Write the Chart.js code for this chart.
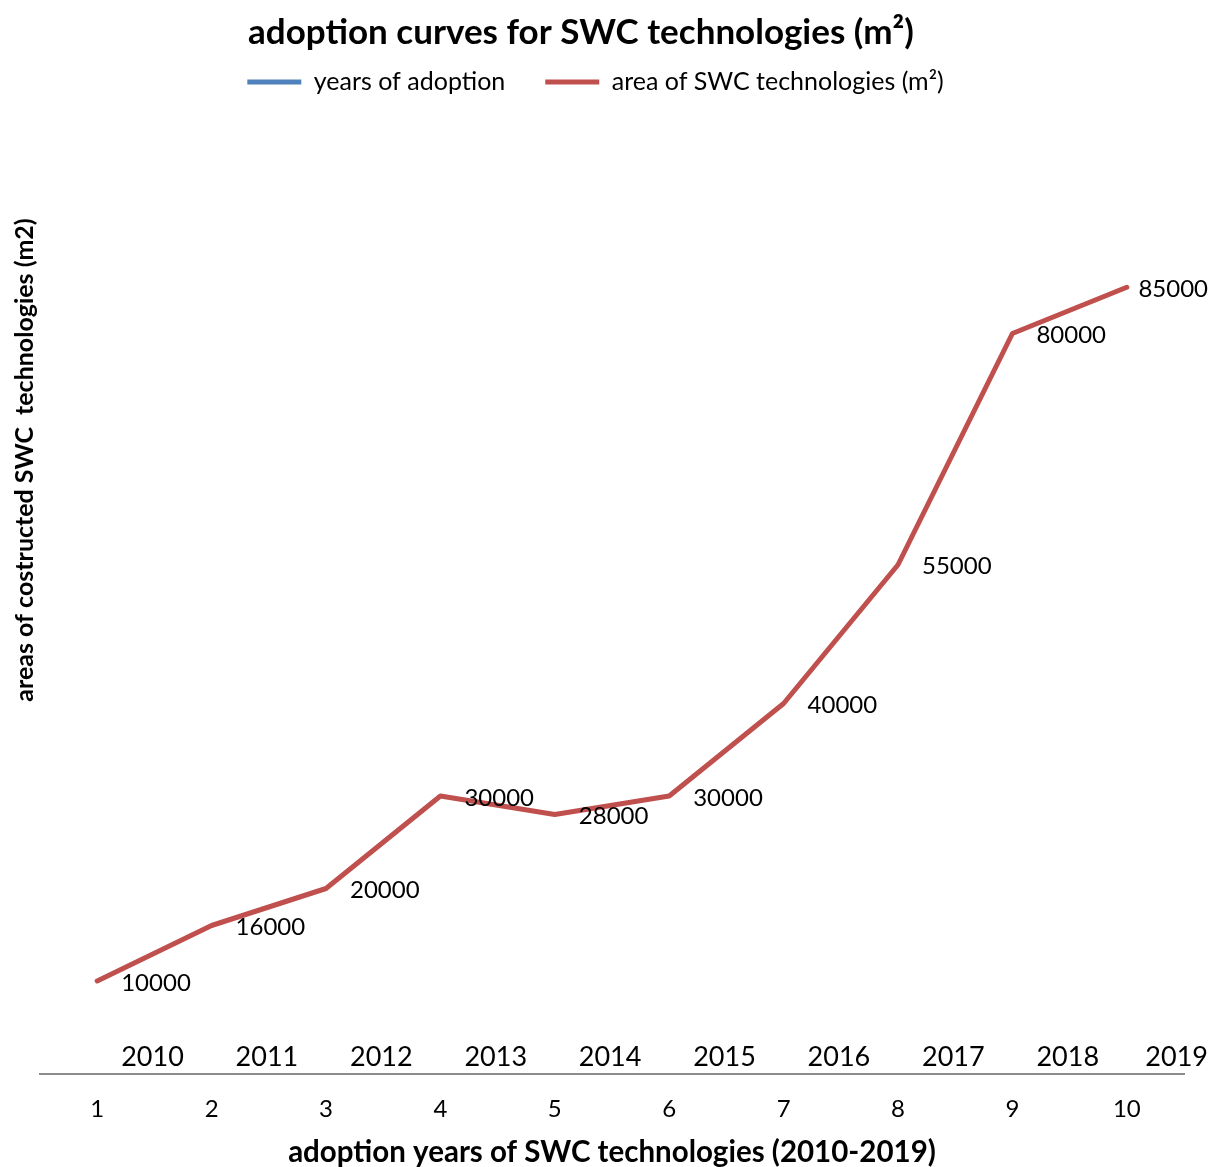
<!DOCTYPE html>
<html>
<head>
<meta charset="utf-8">
<title>adoption curves for SWC technologies</title>
<script src="https://cdn.jsdelivr.net/npm/chart.js@4.4.1/dist/chart.umd.min.js"></script>
<style>
  html, body { margin: 0; padding: 0; background: #fff; }
  #wrap { width: 1211px; height: 1167px; }
</style>
</head>
<body>
<div id="wrap"><canvas id="adoptionchart"></canvas></div>
<script>
const categories = ['1', '2', '3', '4', '5', '6', '7', '8', '9', '10'];
const adoptionYears = [2010, 2011, 2012, 2013, 2014, 2015, 2016, 2017, 2018, 2019];
const areaValues = [10000, 16000, 20000, 30000, 28000, 30000, 40000, 55000, 80000, 85000];
const yMax = 100000;

const BLUE = '#4F81BD';
const RED = '#C0504D';
const FONT = 'Lato';

// value labels to the right of each point (like the excel "right" labels),
// pushed back inside when they would run off the canvas
const pointLabels = {
    id: 'pointLabels',
    afterDatasetsDraw(chart) {
        const ctx = chart.ctx;
        chart.data.datasets.forEach((ds, i) => {
            const meta = chart.getDatasetMeta(i);
            ctx.save();
            ctx.font = ds.labelSize + 'px ' + FONT;
            ctx.fillStyle = '#000';
            ctx.textAlign = 'left';
            ctx.textBaseline = 'middle';
            meta.data.forEach((pt, j) => {
                const txt = String(ds.data[j]);
                const w = ctx.measureText(txt).width;
                const x = Math.min(pt.x + 24, chart.width - 3 - w);
                ctx.fillText(txt, x, pt.y + 2);
            });
            ctx.restore();
        });
    }
};

// vertical axis title, sits higher than the middle of the plot in the original
const yTitle = {
    id: 'yTitle',
    afterDraw(chart) {
        const ctx = chart.ctx;
        ctx.save();
        ctx.translate(25, 460);
        ctx.rotate(-Math.PI / 2);
        ctx.font = 'bold 25px ' + FONT;
        ctx.fillStyle = '#000';
        ctx.textAlign = 'center';
        ctx.textBaseline = 'middle';
        ctx.fillText('areas of costructed SWC  technologies (m2)', 0, 0);
        ctx.restore();
    }
};

// extra room under the legend and small shifts of the header
const headerTweak = {
    id: 'headerTweak',
    beforeInit(chart) {
        const legend = chart.legend;
        const fit = legend.fit;
        legend.fit = function () {
            fit.call(this);
            this.height += 19.5;
        };
    },
    afterLayout(chart) {
        chart.titleBlock.left -= 62;
        chart.legend.left -= 33;
        chart.legend.top -= 24.5;
    }
};

const chart = new Chart(document.getElementById('adoptionchart').getContext('2d'), {
    type: 'line',
    data: {
        labels: categories,
        datasets: [{
            label: 'years of adoption',
            data: adoptionYears,
            borderColor: BLUE,
            backgroundColor: BLUE,
            borderWidth: 5,
            borderCapStyle: 'round',
            showLine: false,
            pointRadius: 0,
            labelSize: 27
        }, {
            label: 'area of SWC technologies (m\u00B2)',
            data: areaValues,
            borderColor: RED,
            backgroundColor: RED,
            borderWidth: 5,
            borderCapStyle: 'round',
            borderJoinStyle: 'round',
            tension: 0,
            pointRadius: 0,
            labelSize: 24
        }]
    },
    options: {
        responsive: true,
        maintainAspectRatio: false,
        animation: false,
        layout: { padding: { left: 40, right: 27, top: 0, bottom: 0 } },
        plugins: {
            title: {
                display: true,
                text: 'adoption curves for SWC technologies (m\u00B2)',
                color: '#000',
                font: { family: FONT, size: 35, weight: 'bold' },
                padding: { top: 12, bottom: 0 }
            },
            legend: {
                position: 'top',
                labels: {
                    color: '#000',
                    font: { family: FONT, size: 25 },
                    usePointStyle: true,
                    pointStyle: 'line',
                    pointStyleWidth: 54,
                    padding: 40
                }
            },
            tooltip: { enabled: false }
        },
        scales: {
            x: {
                offset: true,
                grid: { display: false, drawTicks: false },
                border: { display: true, color: '#8c8c8c', width: 2 },
                ticks: {
                    color: '#000',
                    font: { family: FONT, size: 24 },
                    padding: 21.1,
                    maxRotation: 0,
                    autoSkip: false
                },
                title: {
                    display: true,
                    text: 'adoption years of SWC technologies (2010-2019)',
                    color: '#000',
                    font: { family: FONT, size: 29.5, weight: 'bold', lineHeight: 15 / 29.5 },
                    padding: { top: 0, bottom: 7.5 }
                }
            },
            y: {
                display: false,
                min: 0,
                max: yMax
            }
        }
    },
    plugins: [pointLabels, yTitle, headerTweak]
});
</script>
</body>
</html>
